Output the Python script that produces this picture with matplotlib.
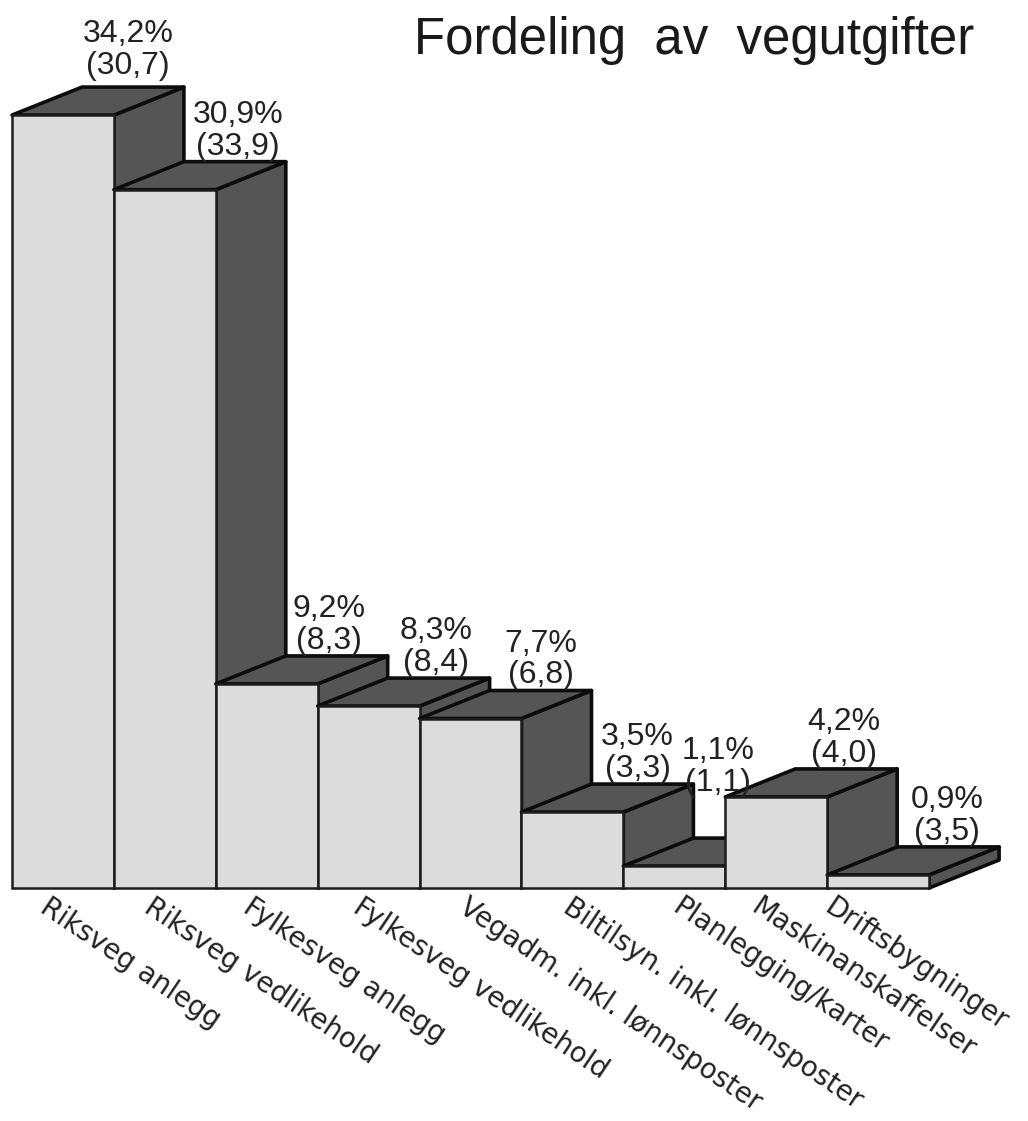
import matplotlib
matplotlib.use("Agg")
import matplotlib.pyplot as plt
from matplotlib.patches import Polygon

title = "Fordeling  av  vegutgifter"
categories = ["Riksveg anlegg", "Riksveg vedlikehold", "Fylkesveg anlegg",
              "Fylkesveg vedlikehold", "Vegadm. inkl. lønnsposter",
              "Biltilsyn. inkl. lønnsposter", "Planlegging/karter",
              "Maskinanskaffelser", "Driftsbygninger"]
shares = ["34,2%", "30,9%", "9,2%", "8,3%", "7,7%", "3,5%", "1,1%", "4,2%", "0,9%"]
previous = ["(30,7)", "(33,9)", "(8,3)", "(8,4)", "(6,8)", "(3,3)", "(1,1)", "(4,0)", "(3,5)"]
# Drawn bar heights
heights = [34.2, 30.9, 9.03, 8.05, 7.5, 3.36, 0.97, 4.03, 0.58]

W, H = 1028, 1121
X0, STEP, Y0, UNIT = 12, 101.9, 888, 22.6
DX, DY = 70 / STEP, 28 / UNIT   # depth of the oblique projection

fig = plt.figure(figsize=(W / 100, H / 100), dpi=100, facecolor="white")
ax = fig.add_axes([0, 0, 1, 1])
ax.set_xlim(-X0 / STEP, (W - X0) / STEP)
ax.set_ylim((Y0 - H) / UNIT, Y0 / UNIT)
ax.axis("off")

FRONT, SHADE, INK = "#dcdcdc", "#555555", "#0c0c0c"
for i, h in enumerate(heights):
    l, r = i, i + 1
    side = [(r, 0), (r + DX, DY), (r + DX, h + DY), (r, h)]
    top = [(l, h), (r, h), (r + DX, h + DY), (l + DX, h + DY)]
    front = [(l, 0), (r, 0), (r, h), (l, h)]
    z = 2 + i
    ax.add_patch(Polygon(side, fc=SHADE, ec=INK, lw=2.6, joinstyle="round", zorder=z))
    ax.add_patch(Polygon(top, fc=SHADE, ec=INK, lw=2.6, joinstyle="round", zorder=z))
    ax.add_patch(Polygon(front, fc=FRONT, ec="#1c1c1c", lw=1.8, zorder=z))

label_dx = [-5, 3, -8, -3, 0, -5, -26, -2, -1]
label_dy = [6, 0, 0, 0, 0, 0, 40, 0, 0]
for i, (a, b) in enumerate(zip(shares, previous)):
    ax.annotate(f"{a}\n{b}", xy=(i + 0.5 + DX, heights[i] + DY),
                xytext=(label_dx[i] * 0.72, label_dy[i] * 0.72),
                textcoords="offset points", ha="center", va="bottom",
                family="Liberation Sans", fontsize=23, color="#222222",
                linespacing=1.08, zorder=30)

name_x = [0.38, 1.40, 2.37, 3.45, 4.49, 5.51, 6.58, 7.36, 8.08]
for i, name in enumerate(categories):
    ax.text(name_x[i], -0.22, name, rotation=-34, rotation_mode="anchor",
            ha="left", va="top", family="DejaVu Sans", fontsize=19.8,
            color="#222222", zorder=30)

ax.text(0.948, 0.964, title, transform=fig.transFigure, ha="right", va="center",
        family="Liberation Sans", fontsize=36.7, color="#1a1a1a")

fig.savefig("out.png", dpi=100, facecolor="white")
